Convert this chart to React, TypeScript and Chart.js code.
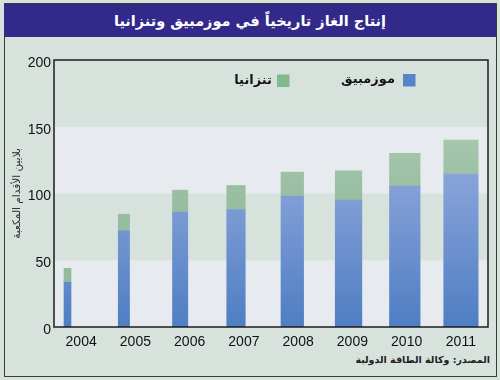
import React, { useEffect, useRef } from "react";
import { Chart, registerables } from "chart.js";

Chart.register(...registerables);

// ---- data ----
const TITLE = "إنتاج الغاز تاريخياً في موزمبيق وتنزانيا";
const SOURCE = "المصدر: وكالة الطاقة الدولية";
const Y_TITLE = "بلايين الأقدام المكعبة";
const YEARS = ["2004", "2005", "2006", "2007", "2008", "2009", "2010", "2011"];
const SERIES = ["موزمبيق", "تنزانيا"];
const MOZAMBIQUE = [33.5, 72, 86, 88, 98, 95, 105.5, 114.5];
const TANZANIA = [10.5, 12.5, 16.5, 18, 18, 22, 24.5, 25.5];
const Y_TICKS = [0, 50, 100, 150, 200];

// ---- styles ----
const BAR_WIDTHS = [7, 11.3, 15.3, 18.5, 22.6, 26.6, 30.6, 34.4];
const BAR_INSET = 10 / 54.25; // bars start ~10px into each year cell
const BG = "#d8e2dd";
const BAND_LIGHT = "#e7eaee";
const FRAME = "#3c3c3c";
const TITLE_BG = "#33298a";
const AXIS_COLOR = "#1c1c1c";
const LEGEND_COLORS = ["#5884c8", "#80b98b"];
const ARABIC_FONT = "'DejaVu Sans', sans-serif";
const NUM_FONT = "'Liberation Sans', Arial, sans-serif";

function blueGradient(ctx: any) {
  const chart = ctx.chart;
  const area = chart.chartArea;
  if (!area) return "#6d8fd0";
  const g = chart.ctx.createLinearGradient(0, area.bottom, 0, area.top);
  g.addColorStop(0, "#4e7ec3");
  g.addColorStop(0.6, "#8ca5da");
  g.addColorStop(1, "#9cb2e2");
  return g;
}

function greenGradient(ctx: any) {
  const chart = ctx.chart;
  const area = chart.chartArea;
  if (!area) return "#9fc2a6";
  const g = chart.ctx.createLinearGradient(0, area.bottom, 0, area.top);
  g.addColorStop(0, "#8fb898");
  g.addColorStop(0.5, "#99bea1");
  g.addColorStop(0.75, "#a9c9b0");
  g.addColorStop(1, "#b3d0b9");
  return g;
}

const bandsPlugin = {
  id: "bands",
  beforeDatasetsDraw(chart: any) {
    const { ctx, chartArea } = chart;
    const y = chart.scales.y;
    ctx.save();
    for (let i = 0; i < Y_TICKS.length - 1; i++) {
      const top = y.getPixelForValue(Y_TICKS[i + 1]);
      const bottom = y.getPixelForValue(Y_TICKS[i]);
      ctx.fillStyle = i % 2 === 0 ? BAND_LIGHT : BG;
      ctx.fillRect(chartArea.left, top, chartArea.right - chartArea.left, bottom - top);
    }
    ctx.restore();
  },
  afterDatasetsDraw(chart: any) {
    const { ctx, chartArea } = chart;
    ctx.save();
    ctx.strokeStyle = AXIS_COLOR;
    ctx.lineWidth = 1.5;
    ctx.strokeRect(chartArea.left, chartArea.top, chartArea.right - chartArea.left, chartArea.bottom - chartArea.top);
    ctx.restore();
  },
};

const legendPlugin = {
  id: "customLegend",
  afterDraw(chart: any) {
    const { ctx } = chart;
    const items = [
      { box: [403, 74], textRight: 395 },
      { box: [277, 74.5], textRight: 272 },
    ];
    ctx.save();
    ctx.font = `bold 13px ${ARABIC_FONT}`;
    ctx.textBaseline = "middle";
    ctx.textAlign = "right";
    items.forEach((it, i) => {
      ctx.fillStyle = LEGEND_COLORS[i];
      ctx.fillRect(it.box[0], it.box[1], 12.5, 12.5);
      ctx.fillStyle = "#151515";
      ctx.fillText(SERIES[i], it.textRight, it.box[1] + 6);
    });
    ctx.restore();
  },
};

export default function App() {
  const ref = useRef<HTMLCanvasElement | null>(null);

  useEffect(() => {
    if (!ref.current) return;
    const datasets: any[] = [
      // empty spacer group so each bar is drawn starting at its x value
      { label: "_spacer", data: [], stack: "spacer", xAxisID: "xb" },
    ];
    MOZAMBIQUE.forEach((v, i) => {
      datasets.push({
        label: SERIES[0],
        data: [{ x: i, y: v }],
        stack: "main",
        xAxisID: "xb",
        barThickness: BAR_WIDTHS[i],
        backgroundColor: blueGradient,
        borderWidth: 0,
      });
    });
    TANZANIA.forEach((v, i) => {
      datasets.push({
        label: SERIES[1],
        data: [{ x: i, y: v }],
        stack: "main",
        xAxisID: "xb",
        barThickness: BAR_WIDTHS[i],
        backgroundColor: greenGradient,
        borderWidth: 0,
      });
    });

    const chart = new Chart(ref.current, {
      type: "bar",
      data: { labels: YEARS, datasets },
      plugins: [bandsPlugin, legendPlugin],
      options: {
        animation: false,
        responsive: true,
        maintainAspectRatio: false,
        layout: { padding: { top: 60, right: 12, left: 0, bottom: 0 } },
        plugins: { legend: { display: false }, tooltip: { enabled: false } },
        scales: {
          x: {
            type: "category",
            labels: YEARS,
            offset: true,
            grid: { display: false, drawTicks: false },
            border: { display: false },
            ticks: {
              color: "#111",
              font: { family: NUM_FONT, size: 14 },
              padding: 7,
              maxRotation: 0,
            },
            afterFit: (s: any) => {
              s.height = 53;
            },
          },
          xb: {
            type: "linear",
            display: false,
            offset: false,
            min: -BAR_INSET,
            max: YEARS.length - BAR_INSET,
          },
          y: {
            type: "linear",
            stacked: true,
            min: 0,
            max: 200,
            grid: { display: false, drawTicks: false },
            border: { display: false },
            ticks: {
              stepSize: 50,
              color: "#111",
              font: { family: NUM_FONT, size: 14 },
              padding: 3,
              labelOffset: 3,
            },
            title: {
              display: true,
              text: Y_TITLE,
              color: "#2a2a2a",
              font: { family: ARABIC_FONT, size: 10.5 },
              padding: { top: 11, bottom: 0 },
            },
            afterFit: (s: any) => {
              s.width = 54;
            },
          },
        },
      } as any,
    });
    return () => chart.destroy();
  }, []);

  return (
    <div
      style={{
        position: "absolute",
        left: 0,
        top: 0,
        width: 500,
        height: 380,
        background: BG,
        overflow: "hidden",
      }}
    >
      <div
        style={{
          position: "absolute",
          left: 3.5,
          top: 3,
          width: 493,
          height: 374,
          boxSizing: "border-box",
          border: `1.5px solid ${FRAME}`,
        }}
      />
      <div
        style={{
          position: "absolute",
          left: 4,
          top: 3.5,
          width: 492,
          height: 33,
          background: TITLE_BG,
          color: "#fff",
          fontFamily: ARABIC_FONT,
          fontWeight: "bold",
          fontSize: 14.5,
          lineHeight: "34px",
          textAlign: "center",
          direction: "rtl",
        }}
      >
        {TITLE}
      </div>
      <div
        style={{
          position: "absolute",
          right: 10,
          top: 354,
          fontFamily: ARABIC_FONT,
          fontWeight: "bold",
          fontSize: 9.5,
          color: "#1e1e1e",
          direction: "rtl",
          whiteSpace: "nowrap",
        }}
      >
        {SOURCE}
      </div>
      <div style={{ position: "absolute", left: 0, top: 0, width: 500, height: 380 }}>
        <canvas ref={ref} />
      </div>
    </div>
  );
}
